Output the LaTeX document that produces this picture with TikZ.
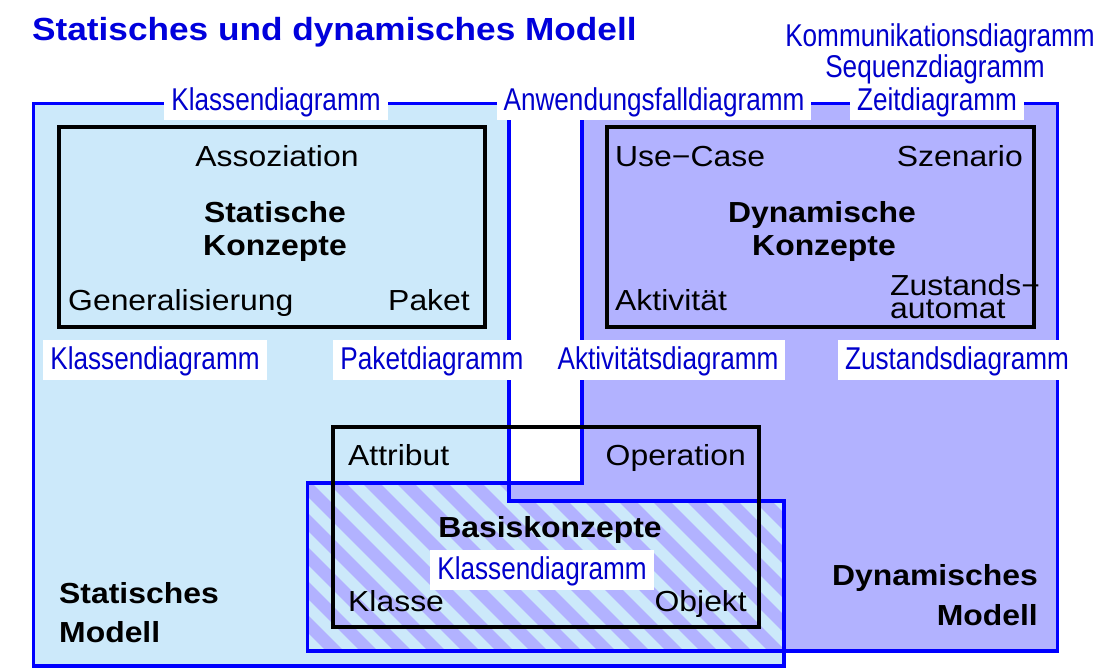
\documentclass[tikz,border=0pt]{standalone}
\usepackage{fontspec}
\setmainfont{Liberation Sans}
\newfontfamily\blkfont[FakeStretch=1.1]{Liberation Sans}
\newfontfamily\narfont[FakeStretch=0.83]{Liberation Sans}
\newfontfamily\titfont[FakeStretch=1.1]{Liberation Sans}
\definecolor{statfill}{RGB}{204,233,250}
\definecolor{dynfill}{RGB}{178,178,255}
\definecolor{borderblue}{RGB}{0,0,255}
\definecolor{lblblue}{RGB}{0,0,204}
\definecolor{titleblue}{RGB}{0,0,220}
\tikzset{
  region/.style={draw=borderblue, line width=3.2pt, line join=miter},
  conceptbox/.style={draw=black, line width=4pt},
  lbl/.style={font=\narfont\fontsize{31.5}{32}\selectfont, text=lblblue, fill=white,
    inner xsep=7pt, inner ysep=4pt, text height=25pt, text depth=7pt},
  toplbl/.style={lbl, text height=22pt, inner ysep=3pt},
  lblplain/.style={font=\narfont\fontsize{31.5}{32}\selectfont, text=lblblue, inner sep=0pt},
  txt/.style={font=\blkfont\fontsize{29}{30}\selectfont, text=black, inner sep=0pt},
  btxt/.style={font=\blkfont\bfseries\fontsize{29}{30}\selectfont, text=black, inner sep=0pt},
  titletxt/.style={font=\titfont\bfseries\fontsize{32}{34}\selectfont, text=titleblue, inner sep=0pt}
}
\begin{document}
\begin{tikzpicture}[x=1pt,y=-1pt]
\useasboundingbox (0,0) rectangle (1113,670);
\fill[white] (0,0) rectangle (1113,670);

% coordinates of the two model regions
\coordinate (s1) at (33.5,103.5);
\coordinate (s2) at (509,103.5);
\coordinate (s3) at (509,501);
\coordinate (s4) at (784,501);
\coordinate (s5) at (784,666);
\coordinate (s6) at (33.5,666);
\coordinate (d1) at (582,103.5);
\coordinate (d2) at (1057.5,103.5);
\coordinate (d3) at (1057.5,651);
\coordinate (d4) at (307.5,651);
\coordinate (d5) at (307.5,483);
\coordinate (d6) at (582,483);

% fills
\fill[statfill] (s1) -- (s2) -- (s3) -- (s4) -- (s5) -- (s6) -- cycle;
\fill[dynfill] (d1) -- (d2) -- (d3) -- (d4) -- (d5) -- (d6) -- cycle;
% hatched overlap
\begin{scope}
  \clip (d5) -- (509,483) -- (s3) -- (s4) -- (784,651) -- (d4) -- cycle;
  \fill[statfill] (300,470) rectangle (800,670);
  \foreach \i in {0,...,22}
    \draw[dynfill, line width=12.5pt] ({120+\i*34},470) -- ++(200,200);
\end{scope}

% outlines
\draw[region] (s1) -- (s2) -- (s3) -- (s4) -- (s5) -- (s6) -- cycle;
\draw[region] (d1) -- (d2) -- (d3) -- (d4) -- (d5) -- (d6) -- cycle;

% concept boxes
\draw[conceptbox] (58.5,127) rectangle (485,327);
\draw[conceptbox] (607,127) rectangle (1034,327);
\draw[conceptbox] (332.5,426.5) rectangle (759,627);

% title
\node[titletxt, anchor=base west] (title) at (32,40) {Statisches und dynamisches Modell};

% top labels
\node[toplbl, anchor=base] (klTop) at (276,110) {Klassendiagramm};
\node[toplbl, anchor=base] (anw) at (654,110) {Anwendungsfalldiagramm};
\node[toplbl, anchor=base] (zeit) at (937,110) {Zeitdiagramm};
\node[lblplain, anchor=base] (komm) at (940,46) {Kommunikationsdiagramm};
\node[lblplain, anchor=base] (seq) at (935,77) {Sequenzdiagramm};

% row labels
\node[lbl, anchor=base] (klRow) at (155,369) {Klassendiagramm};
\node[lbl, anchor=base] (paket) at (432,369) {Paketdiagramm};
\node[lbl, anchor=base] (akt) at (668,369) {Aktivitätsdiagramm};
\node[lbl, anchor=base] (zust) at (957,369) {Zustandsdiagramm};

% static concepts
\node[txt, anchor=base] (assoz) at (277,166) {Assoziation};
\node[btxt, anchor=base] (stat1) at (275,222) {Statische};
\node[btxt, anchor=base] (stat2) at (275,255) {Konzepte};
\node[txt, anchor=base west] (gen) at (68,310) {Generalisierung};
\node[txt, anchor=base east] (pak) at (470,310) {Paket};

% dynamic concepts
\node[txt, anchor=base west] (usecase) at (615,166) {Use−Case};
\node[txt, anchor=base east] (szen) at (1023,166) {Szenario};
\node[btxt, anchor=base] (dyn1) at (822,222) {Dynamische};
\node[btxt, anchor=base] (dyn2) at (824,255) {Konzepte};
\node[txt, anchor=base west] (aktiv) at (615,310) {Aktivität};
\node[txt, anchor=base west] (zus1) at (890,295) {Zustands−};
\node[txt, anchor=base west] (zus2) at (890,318) {automat};

% basic concepts
\node[txt, anchor=base west] (attr) at (348,465) {Attribut};
\node[txt, anchor=base east] (oper) at (746,465) {Operation};
\node[btxt, anchor=base] (basis) at (550,537) {Basiskonzepte};
\node[lbl, anchor=base] (klBas) at (542,579) {Klassendiagramm};
\node[txt, anchor=base west] (klasse) at (348,611) {Klasse};
\node[txt, anchor=base east] (objekt) at (747,611) {Objekt};

% model names
\node[btxt, anchor=base west] (sm1) at (59,603) {Statisches};
\node[btxt, anchor=base west] (sm2) at (59,642) {Modell};
\node[btxt, anchor=base east] (dm1) at (1038,585) {Dynamisches};
\node[btxt, anchor=base east] (dm2) at (1038,625) {Modell};
\end{tikzpicture}
\end{document}
